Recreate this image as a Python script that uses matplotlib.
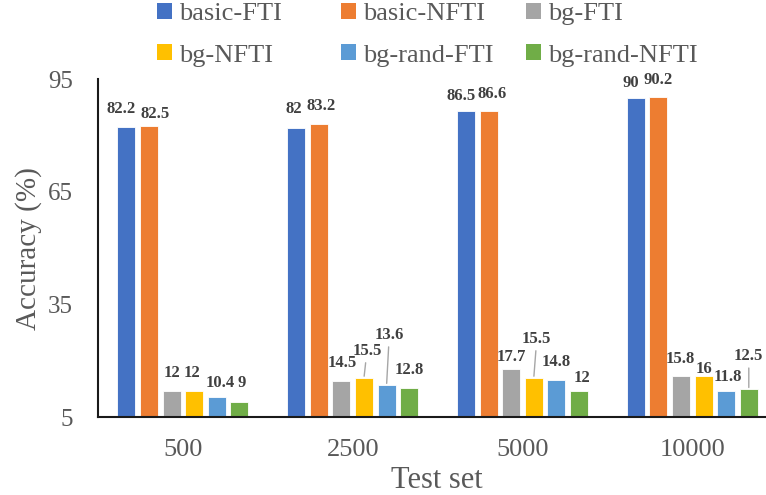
import matplotlib
matplotlib.use('Agg')
import matplotlib.pyplot as plt
from matplotlib.patches import Patch
import numpy as np

plt.rcParams['font.family'] = ['Liberation Serif', 'DejaVu Serif']

# ---------------- data ----------------
categories = ['500', '2500', '5000', '10000']
series_names = ['basic-FTI', 'basic-NFTI', 'bg-FTI', 'bg-NFTI', 'bg-rand-FTI', 'bg-rand-NFTI']
basic_fti = [82.2, 82, 86.5, 90]
basic_nfti = [82.5, 83.2, 86.6, 90.2]
bg_fti = [12, 14.5, 17.7, 15.8]
bg_nfti = [12, 15.5, 15.5, 16]
bg_rand_fti = [10.4, 13.6, 14.8, 11.8]
bg_rand_nfti = [9, 12.8, 12, 12.5]
y_ticks = [5, 35, 65, 95]
series_values = [basic_fti, basic_nfti, bg_fti, bg_nfti, bg_rand_fti, bg_rand_nfti]

# ---------------- style ----------------
colors = ['#4472C4', '#ED7D31', '#A5A5A5', '#FFC000', '#5B9BD5', '#70AD47']
text_gray = '#595959'
label_gray = '#404040'

# data label offsets in pixels (dx, dy) from bar top center
label_offsets = [
    [(-5, 18), (-2, 19.5), (-5, 15), (-5, 15)],
    [(6.5, 12.5), (2.7, 18), (4, 17), (-0.7, 17)],
    [(0, 17.7), (0.7, 18.5), (0.3, 12), (-0.8, 17.6)],
    [(-2, 17.7), (3, 27), (3, 39), (0, 7)],
    [(3, 14), (2.7, 50), (0, 18.4), (2, 14)],
    [(2, 19), (0, 17.7), (2.5, 13), (0, 33)],
]
leaders = {(3, 1), (4, 1), (3, 2), (5, 3)}

W, H = 766, 495
fig = plt.figure(figsize=(W / 100, H / 100), dpi=100)
ax_left, ax_right, ax_top, ax_bot = 98, 777.2, 79.3, 417
ax = fig.add_axes([ax_left / W, (H - ax_bot) / H, (ax_right - ax_left) / W, (ax_bot - ax_top) / H])

x = np.arange(len(categories))
step = 0.1331
width = 0.106
for j, (vals, c, name) in enumerate(zip(series_values, colors, series_names)):
    xs = x + (j - 2.5) * step
    heights = np.array(vals) - 5
    ax.bar(xs, heights, width=width, bottom=5, color=c, edgecolor='white', linewidth=0.6, label=name, zorder=2)
    for i, (xx, v) in enumerate(zip(xs, vals)):
        dx, dy = label_offsets[j][i]
        kw = {}
        if (j, i) in leaders:
            kw['arrowprops'] = dict(arrowstyle='-', color='#a6a6a6', lw=1, shrinkA=1, shrinkB=1)
        ax.annotate(f'{v:g}', xy=(xx, v), xytext=(dx, dy), textcoords='offset pixels',
                    ha='center', va='center', fontsize=12, fontweight='bold', color=label_gray,
                    annotation_clip=False, **kw)

ax.set_xlim(-0.5, len(categories) - 0.5)
ax.set_ylim(5, 95)
ax.set_yticks(y_ticks)
ax.set_xticks(x)
ax.set_xticklabels(categories)
ax.tick_params(axis='y', length=0, pad=18, labelsize=18, labelcolor=text_gray)
ax.tick_params(axis='x', length=0, pad=16, labelsize=19, labelcolor=text_gray)
for s in ['top', 'right']:
    ax.spines[s].set_visible(False)
ax.spines['left'].set_linewidth(1.5)
ax.spines['bottom'].set_linewidth(1.5)
ax.spines['left'].set_color('#1a1a1a')
ax.spines['bottom'].set_color('#1a1a1a')

ax.set_xlabel('Test set', fontsize=22, color=text_gray)
ax.set_ylabel('Accuracy (%)', fontsize=21, color=text_gray)
ax.xaxis.set_label_coords((436.5 - ax_left) / (ax_right - ax_left), (ax_bot - 466.5) / (ax_bot - ax_top))
ax.yaxis.set_label_coords((42 - ax_left) / (ax_right - ax_left), 0.5)

# legend: three columns with equal spacing
handles = [Patch(facecolor=c, edgecolor='none') for c in colors]
col_x = [157, 341, 526]
for k in range(3):
    hs = [handles[k], handles[k + 3]]
    ls = [series_names[k], series_names[k + 3]]
    fig.legend(hs, ls, loc='upper left', bbox_to_anchor=(col_x[k] / W, (H - 3) / H),
               frameon=False, fontsize=19, labelcolor=text_gray, borderpad=0, borderaxespad=0,
               handlelength=0.55, handleheight=0.55, handletextpad=0.3, labelspacing=0.72)

fig.savefig('out.png', dpi=100)
